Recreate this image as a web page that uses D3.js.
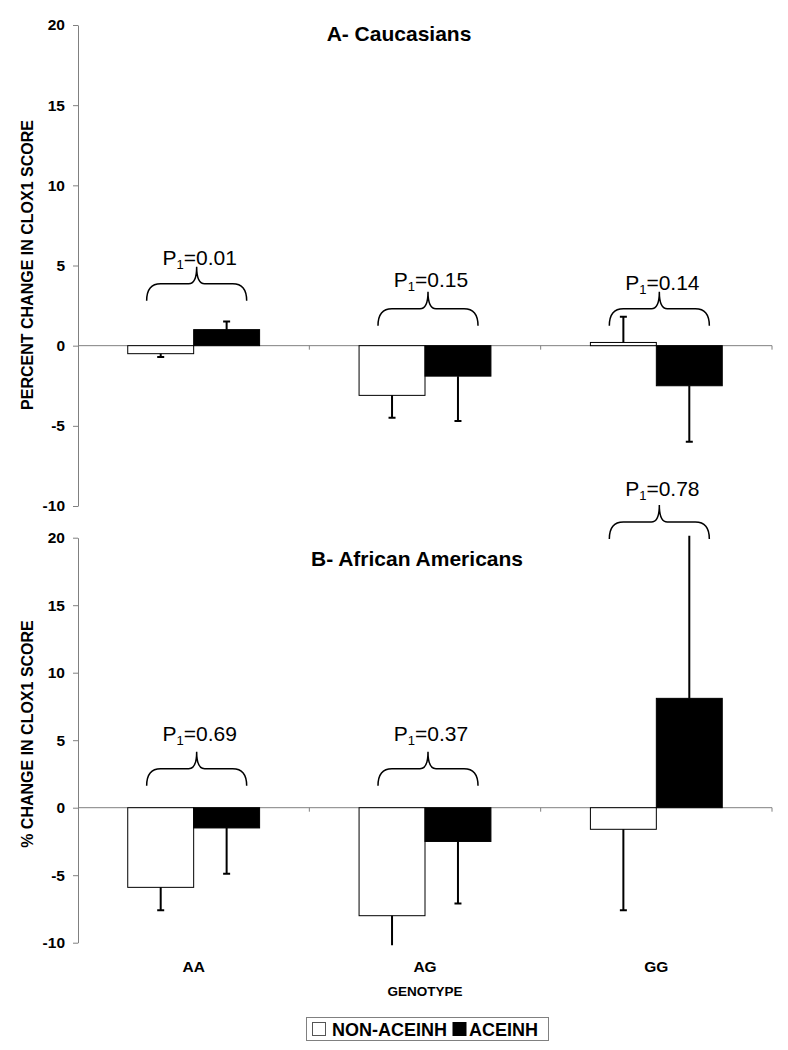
<!DOCTYPE html>
<html>
<head>
<meta charset="utf-8">
<script src="https://cdn.jsdelivr.net/npm/d3@7"></script>
<style>
  html, body { margin: 0; padding: 0; background: #fff; }
  svg { display: block; }
  text { font-family: "Liberation Sans", Arial, sans-serif; fill: #000; }
</style>
</head>
<body>
<svg id="chart" width="788" height="1050"></svg>
<script>
// ---- data ----
const genotypes = ["AA", "AG", "GG"];
const series = ["NON-ACEINH", "ACEINH"];
const yTicks = [-10, -5, 0, 5, 10, 15, 20];

// Panel A - Caucasians
const caucNon = [-0.5, -3.1, 0.2];
const caucNonErr = [-0.7, -4.5, 1.8];
const caucAce = [1.0, -1.9, -2.5];
const caucAceErr = [1.5, -4.7, -6.0];
const caucP = ["0.01", "0.15", "0.14"];
const caucBrace = [2.8, 1.25, 1.25];
const caucLabel = [5.06, 3.63, 3.5];

// Panel B - African Americans
const afrNon = [-5.9, -8.0, -1.6];
const afrNonErr = [-7.6, -10.5, -7.6];
const afrAce = [-1.5, -2.5, 8.1];
const afrAceErr = [-4.9, -7.1, 21.0];
const afrP = ["0.69", "0.37", "0.78"];
const afrBrace = [1.63, 1.63, 19.9];
const afrLabel = [4.93, 4.93, 23.1];

// ---- layout ----
const svg = d3.select("#chart");
const FONT = "'Liberation Sans', Arial, sans-serif";
const x0 = 78, x1 = 772;

const x = d3.scaleBand().domain(genotypes).range([x0, x1]).paddingInner(0.43).paddingOuter(0.215);
const xs = d3.scaleBand().domain(series).range([0, x.bandwidth()]).padding(0);
const fills = { "NON-ACEINH": "#fff", "ACEINH": "#000" };

const panels = [
  { id: "A", title: "A- Caucasians", tx: 399, ty: 41, ylab: "PERCENT CHANGE IN CLOX1 SCORE", ylabY: 265,
    range: [506, 25], non: caucNon, nonErr: caucNonErr, ace: caucAce, aceErr: caucAceErr,
    p: caucP, brace: caucBrace, label: caucLabel },
  { id: "B", title: "B- African Americans", tx: 417, ty: 566, ylab: "% CHANGE IN CLOX1 SCORE", ylabY: 734,
    range: [942.7, 537.7], non: afrNon, nonErr: afrNonErr, ace: afrAce, aceErr: afrAceErr,
    p: afrP, brace: afrBrace, label: afrLabel }
];

panels.forEach((P, pi) => {
  const y = d3.scaleLinear().domain([-10, 20]).range(P.range);
  const g = svg.append("g");

  const clipId = "clip" + P.id;
  svg.append("clipPath").attr("id", clipId).append("rect")
    .attr("x", x0).attr("width", x1 - x0)
    .attr("y", y(20) - 2).attr("height", y(-10) - y(20) + 4.5);

  // y axis
  const ax = g.append("g").attr("transform", `translate(${x0},0)`)
    .call(d3.axisLeft(y).tickValues(yTicks).tickFormat(d => String(d))
      .tickSize(5).tickSizeOuter(0).tickPadding(8));
  ax.select(".domain").attr("stroke", "#808080");
  ax.selectAll(".tick line").attr("stroke", "#808080");
  ax.selectAll(".tick text").attr("font-family", FONT).attr("font-size", 15.5)
    .attr("font-weight", "bold").attr("fill", "#000");

  // zero line with group boundary ticks
  g.append("line").attr("x1", x0).attr("x2", x1).attr("y1", y(0)).attr("y2", y(0))
    .attr("stroke", "#808080").attr("stroke-width", 1);
  const bounds = d3.range(1, genotypes.length + 1).map(i => x0 + i * x.step());
  g.selectAll(".bt").data(bounds).join("line")
    .attr("x1", d => d).attr("x2", d => d).attr("y1", y(0)).attr("y2", y(0) + 4)
    .attr("stroke", "#808080");

  // bars
  const rows = [];
  genotypes.forEach((gt, i) => {
    rows.push({ gt, s: "NON-ACEINH", v: P.non[i], e: P.nonErr[i] });
    rows.push({ gt, s: "ACEINH", v: P.ace[i], e: P.aceErr[i] });
  });
  g.selectAll(".bar").data(rows).join("rect")
    .attr("x", d => x(d.gt) + xs(d.s))
    .attr("width", xs.bandwidth())
    .attr("y", d => Math.min(y(d.v), y(0)))
    .attr("height", d => Math.abs(y(d.v) - y(0)))
    .attr("fill", d => fills[d.s])
    .attr("stroke", "#000").attr("stroke-width", 1);

  // error bars
  const eg = g.append("g").attr("clip-path", `url(#${clipId})`);
  const cx = d => x(d.gt) + xs(d.s) + xs.bandwidth() / 2;
  eg.selectAll(".err").data(rows).join("line")
    .attr("x1", cx).attr("x2", cx).attr("y1", d => y(d.v)).attr("y2", d => y(d.e))
    .attr("stroke", "#000").attr("stroke-width", 2);
  eg.selectAll(".cap").data(rows).join("line")
    .attr("x1", d => cx(d) - 3.5).attr("x2", d => cx(d) + 3.5)
    .attr("y1", d => y(d.e)).attr("y2", d => y(d.e))
    .attr("stroke", "#000").attr("stroke-width", 2);

  // braces + p labels
  genotypes.forEach((gt, i) => {
    const c = x(gt) + x.bandwidth() / 2 + 3;
    const L = c - 50, R = c + 50;
    const yb = y(P.brace[i]), yh = yb - 17, yp = yh - 17;
    const path = `M${L},${yb} Q${L},${yh} ${L + 14},${yh} L${c - 8},${yh} Q${c},${yh} ${c},${yp}` +
                 ` Q${c},${yh} ${c + 8},${yh} L${R - 14},${yh} Q${R},${yh} ${R},${yb}`;
    g.append("path").attr("d", path).attr("fill", "none").attr("stroke", "#000").attr("stroke-width", 1.5);

    const t = g.append("text").attr("x", c + 3).attr("y", y(P.label[i]))
      .attr("text-anchor", "middle").attr("font-size", 21);
    t.append("tspan").text("P");
    t.append("tspan").attr("font-size", 13).attr("dy", 4).text("1");
    t.append("tspan").attr("dy", -4).text("=" + P.p[i]);
  });

  // title
  g.append("text").attr("x", P.tx).attr("y", P.ty).attr("text-anchor", "middle")
    .attr("font-size", 21).attr("font-weight", "bold").text(P.title);

  // y label
  g.append("text").attr("transform", `translate(33,${P.ylabY}) rotate(-90)`)
    .attr("text-anchor", "middle").attr("font-size", 16).attr("font-weight", "bold").text(P.ylab);

  if (pi === panels.length - 1) {
    g.selectAll(".cat").data(genotypes).join("text")
      .attr("x", d => x(d) + x.bandwidth() / 2).attr("y", 971.5)
      .attr("text-anchor", "middle").attr("font-size", 15.5).attr("font-weight", "bold")
      .text(d => d);
    g.append("text").attr("x", 425).attr("y", 995.5).attr("text-anchor", "middle")
      .attr("font-size", 13.5).attr("font-weight", "bold").text("GENOTYPE");
  }
});

// legend
const lg = svg.append("g");
lg.append("rect").attr("x", 306.5).attr("y", 1017.5).attr("width", 242).attr("height", 23)
  .attr("fill", "#fff").attr("stroke", "#808080").attr("stroke-width", 1);
const legX = [312.5, 453];
const legTextX = [332, 469];
series.forEach((s, i) => {
  lg.append("rect").attr("x", legX[i]).attr("y", 1022.5).attr("width", 13).attr("height", 13)
    .attr("fill", fills[s]).attr("stroke", i === 0 ? "#555" : "#000").attr("stroke-width", 1);
  lg.append("text").attr("x", legTextX[i]).attr("y", 1035.5).attr("font-size", 18)
    .attr("font-weight", "bold").text(s);
});
</script>
</body>
</html>
